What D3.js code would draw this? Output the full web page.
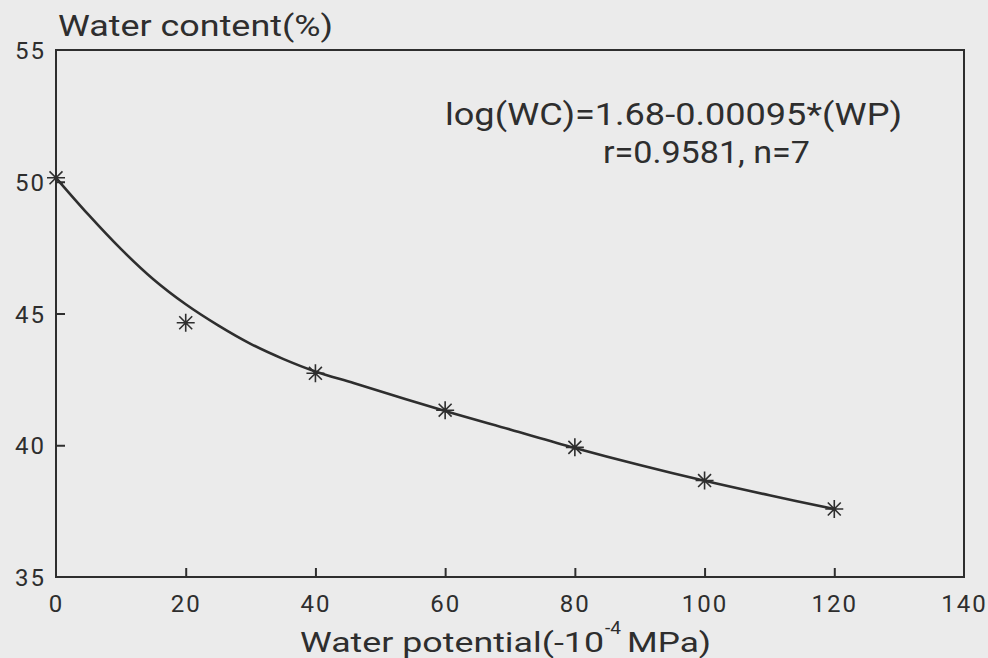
<!DOCTYPE html>
<html>
<head>
<meta charset="utf-8">
<script src="https://cdn.jsdelivr.net/npm/d3@7/dist/d3.min.js"></script>
<style>
  html, body { margin: 0; padding: 0; background: #ebebeb; }
  svg { display: block; }
  text { font-family: Roboto, "Liberation Sans", Arial, sans-serif; font-weight: 400; fill: #2e2e2e; }
</style>
</head>
<body>
<svg id="chart" width="988" height="658"></svg>
<script>
// ---- data ----
const xTicks = [0, 20, 40, 60, 80, 100, 120, 140];
const yTicks = [35, 40, 45, 50, 55];
// measured points (water potential, water content)
const pointWP = [0, 20, 40, 60, 80, 100, 120];
const pointWC = [50.15, 44.65, 42.73, 41.33, 39.92, 38.66, 37.58];
// fitted curve
const curveWP = [0, 5, 10, 15, 20, 25, 30, 35, 40, 46, 60, 70, 80, 90, 100, 110, 120];
const curveWC = [50.15, 48.75, 47.45, 46.3, 45.35, 44.55, 43.85, 43.28, 42.8, 42.35, 41.3, 40.6, 39.9, 39.25, 38.65, 38.1, 37.58];
const titleY = "Water content(%)";
const titleX1 = "Water potential(-10";
const titleXsup = "-4";
const titleX2 = "MPa)";
const eqLine1 = "log(WC)=1.68-0.00095*(WP)";
const eqLine2 = "r=0.9581, n=7";

// ---- layout ----
const svg = d3.select("#chart");
const L = 56, R = 964, T = 50, B = 577;
const x = d3.scaleLinear().domain([0, 140]).range([L, R]);
const y = d3.scaleLinear().domain([35, 55]).range([B, T]);
const ink = "#2e2e2e";
const font = 'Roboto, "Liberation Sans", Arial, sans-serif';

svg.append("rect").attr("width", 988).attr("height", 658).attr("fill", "#ebebeb");

// frame
svg.append("rect")
  .attr("x", L).attr("y", T).attr("width", R - L).attr("height", B - T)
  .attr("fill", "none").attr("stroke", ink).attr("stroke-width", 2);

// x axis (ticks inward, labels below)
const xAxis = d3.axisBottom(x).tickValues(xTicks).tickSizeInner(-9).tickSizeOuter(0).tickPadding(22);
const gx = svg.append("g").attr("transform", `translate(0,${B})`).call(xAxis);
gx.select(".domain").remove();
gx.selectAll(".tick line").attr("stroke", ink).attr("stroke-width", 2)
  .filter(d => d === 0 || d === 140).remove();
gx.selectAll(".tick text").attr("font-size", 24).attr("fill", ink)
  .attr("font-family", font).attr("font-weight", 500)
  .attr("letter-spacing", 2).attr("dy", "0.55em");

// y axis (ticks inward, labels left)
const yAxis = d3.axisLeft(y).tickValues(yTicks).tickSizeInner(-9).tickSizeOuter(0).tickPadding(20);
const gy = svg.append("g").attr("transform", `translate(${L},0)`).call(yAxis);
gy.select(".domain").remove();
gy.selectAll(".tick line").attr("stroke", ink).attr("stroke-width", 2)
  .filter(d => d === 35 || d === 55).remove();
gy.selectAll(".tick text").attr("font-size", 24).attr("fill", ink)
  .attr("font-family", font).attr("font-weight", 500)
  .attr("letter-spacing", 2).attr("x", -10).attr("dy", "0.36em");

// fitted curve
const line = d3.line().x(d => x(d[0])).y(d => y(d[1])).curve(d3.curveCatmullRom.alpha(0.5));
svg.append("path")
  .datum(curveWP.map((v, i) => [v, curveWC[i]]))
  .attr("d", line).attr("fill", "none").attr("stroke", ink).attr("stroke-width", 2.6);

// asterisk markers (8 arms)
const r = 9;
const k = r * 0.72;
const star = `M${-r},0L${r},0M0,${-r}L0,${r}M${-k},${-k}L${k},${k}M${-k},${k}L${k},${-k}`;
svg.append("g").selectAll("path")
  .data(pointWP.map((v, i) => [v, pointWC[i]]))
  .join("path")
  .attr("transform", d => `translate(${x(d[0])},${y(d[1])})`)
  .attr("d", star).attr("fill", "none").attr("stroke", ink).attr("stroke-width", 1.6);

// titles
svg.append("text").attr("x", 58).attr("y", 36).attr("font-size", 29)
  .attr("textLength", 275).attr("lengthAdjust", "spacingAndGlyphs").text(titleY);

svg.append("text").attr("x", 300).attr("y", 652).attr("font-size", 27)
  .attr("textLength", 304).attr("lengthAdjust", "spacingAndGlyphs").text(titleX1);
svg.append("text").attr("x", 605).attr("y", 634).attr("font-size", 19)
  .attr("textLength", 16).attr("lengthAdjust", "spacingAndGlyphs").text(titleXsup);
svg.append("text").attr("x", 627).attr("y", 652).attr("font-size", 27)
  .attr("textLength", 84).attr("lengthAdjust", "spacingAndGlyphs").text(titleX2);

// equation annotation
svg.append("text").attr("x", 445).attr("y", 125).attr("font-size", 31)
  .attr("textLength", 457).attr("lengthAdjust", "spacingAndGlyphs").text(eqLine1);
svg.append("text").attr("x", 603).attr("y", 163).attr("font-size", 31)
  .attr("textLength", 207).attr("lengthAdjust", "spacingAndGlyphs").text(eqLine2);
</script>
</body>
</html>
